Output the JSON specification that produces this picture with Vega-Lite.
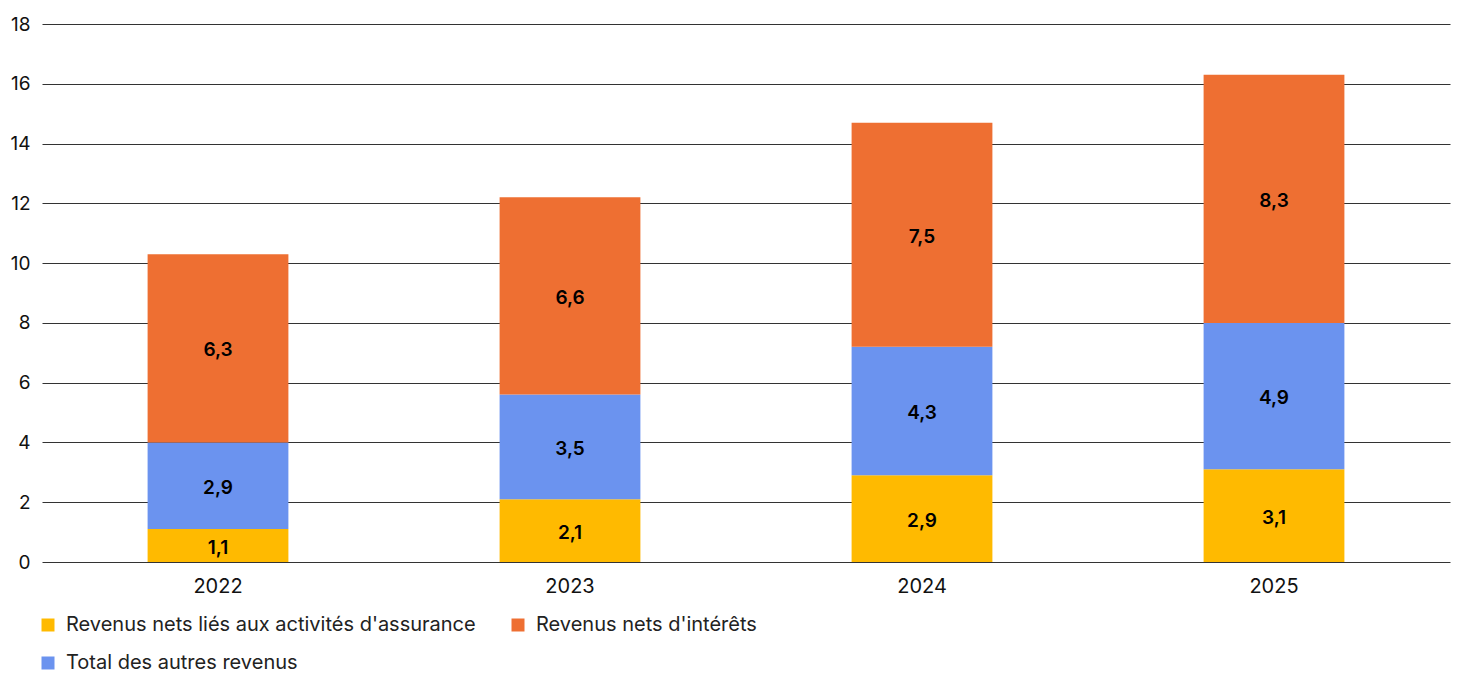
{
  "$schema": "https://vega.github.io/schema/vega-lite/v6.json",
  "width": 1408,
  "height": 538,
  "autosize": {"type": "none"},
  "padding": {"left": 42, "top": 24, "right": 10, "bottom": 112},
  "background": "white",
  "config": {
    "font": "Inter",
    "view": {"stroke": null},
    "locale": {"number": {"decimal": ",", "thousands": " ", "grouping": [3], "currency": ["", " €"]}}
  },
  "data": {
    "values": [
      {"annee": "2022", "serie": "Revenus nets liés aux activités d'assurance", "ordre": 1, "valeur": 1.1},
      {"annee": "2022", "serie": "Total des autres revenus", "ordre": 2, "valeur": 2.9},
      {"annee": "2022", "serie": "Revenus nets d'intérêts", "ordre": 3, "valeur": 6.3},
      {"annee": "2023", "serie": "Revenus nets liés aux activités d'assurance", "ordre": 1, "valeur": 2.1},
      {"annee": "2023", "serie": "Total des autres revenus", "ordre": 2, "valeur": 3.5},
      {"annee": "2023", "serie": "Revenus nets d'intérêts", "ordre": 3, "valeur": 6.6},
      {"annee": "2024", "serie": "Revenus nets liés aux activités d'assurance", "ordre": 1, "valeur": 2.9},
      {"annee": "2024", "serie": "Total des autres revenus", "ordre": 2, "valeur": 4.3},
      {"annee": "2024", "serie": "Revenus nets d'intérêts", "ordre": 3, "valeur": 7.5},
      {"annee": "2025", "serie": "Revenus nets liés aux activités d'assurance", "ordre": 1, "valeur": 3.1},
      {"annee": "2025", "serie": "Total des autres revenus", "ordre": 2, "valeur": 4.9},
      {"annee": "2025", "serie": "Revenus nets d'intérêts", "ordre": 3, "valeur": 8.3}
    ]
  },
  "transform": [
    {"stack": "valeur", "groupby": ["annee"], "sort": [{"field": "ordre", "order": "ascending"}], "as": ["v0", "v1"]},
    {"calculate": "(datum.v0 + datum.v1) / 2", "as": "milieu"}
  ],
  "encoding": {
    "x": {
      "field": "annee", "type": "nominal", "title": null,
      "scale": {"paddingInner": 0.6, "paddingOuter": 0.3},
      "axis": {"labelAngle": 0, "domain": false, "ticks": false, "labelFontSize": 20, "labelColor": "#111", "labelPadding": 14}
    }
  },
  "layer": [
    {
      "mark": {"type": "bar"},
      "encoding": {
        "y": {
          "field": "v0", "type": "quantitative", "title": null,
          "scale": {"domain": [0, 18]},
          "axis": {"values": [0, 2, 4, 6, 8, 10, 12, 14, 16, 18], "domain": false, "ticks": false, "gridColor": "#333", "gridWidth": 1, "gridOpacity": 1, "labelFontSize": 19, "labelColor": "#111", "labelPadding": 12, "format": "d"}
        },
        "y2": {"field": "v1"},
        "color": {
          "field": "serie", "type": "nominal",
          "scale": {
            "domain": ["Revenus nets liés aux activités d'assurance", "Revenus nets d'intérêts", "Total des autres revenus"],
            "range": ["#FFBA00", "#EE6F32", "#6B93EF"]
          },
          "legend": {
            "orient": "none", "legendX": -4, "legendY": 591, "title": null,
            "columns": 2, "direction": "horizontal",
            "symbolType": "square", "symbolSize": 169, "symbolStrokeWidth": 0,
            "labelFontSize": 20, "labelColor": "#222", "labelOffset": 8,
            "columnPadding": 32, "rowPadding": 18, "labelLimit": 600
          }
        }
      }
    },
    {
      "mark": {"type": "text", "fontSize": 19, "fontWeight": 600, "color": "#000", "baseline": "middle", "dy": 2},
      "encoding": {
        "y": {"field": "milieu", "type": "quantitative"},
        "text": {"field": "valeur", "type": "quantitative", "format": ".1f"}
      }
    }
  ]
}
